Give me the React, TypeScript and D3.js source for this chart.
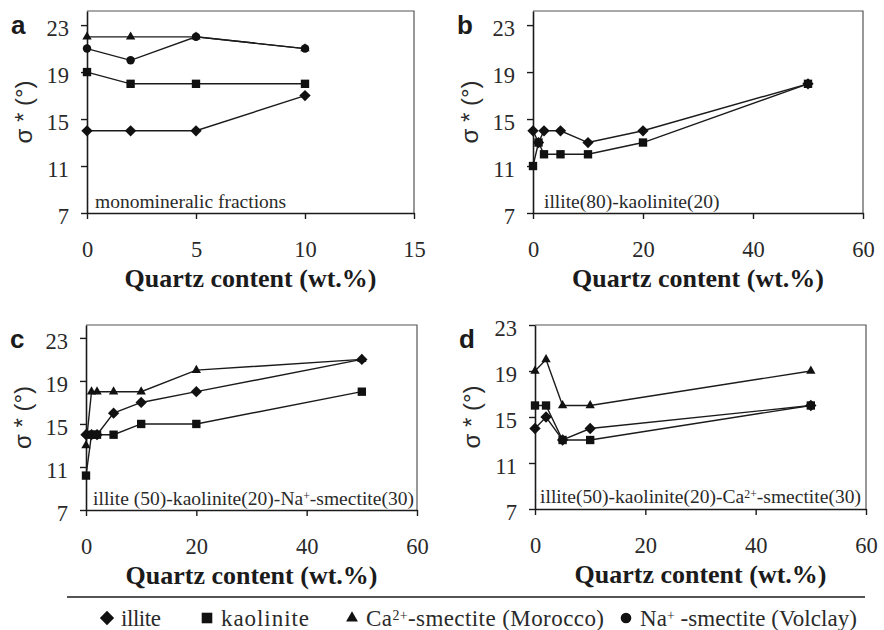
import * as d3 from "d3";
import {useEffect, useRef} from "react";

// Quartz content (wt.%) of the measured mixtures
const quartzA = [0, 2, 5, 10];
const quartzB = [0, 1, 2, 5, 10, 20, 50];
const quartzC = [0, 1, 2, 5, 10, 20, 50];
const quartzD = [0, 2, 5, 10, 50];

// sigma* (°) per clay mineral
const illiteA = [14, 14, 14, 17];
const kaoliniteA = [19, 18, 18, 18];
const caSmectiteA = [22, 22, 22, 21];
const naSmectiteA = [21, 20, 22, 21];

const illiteB = [14, 13, 14, 14, 13, 14, 18];
const kaoliniteB = [11, 13, 12, 12, 12, 13, 18];

const illiteC = [14, 14, 14, 16, 17, 18, 21];
const kaoliniteC = [10.2, 14, 14, 14, 15, 15, 18];
const caSmectiteC = [13, 18, 18, 18, 18, 20, 21];

const illiteD = [14, 15, 13, 14, 16];
const kaoliniteD = [16, 16, 13, 13, 16];
const caSmectiteD = [19, 20, 16, 16, 19];

const yTicks = [7, 11, 15, 19, 23];
const xTicksA = [0, 5, 10, 15];
const xTicksWide = [0, 20, 40, 60];

type Kind = "illite" | "kaolinite" | "ca" | "na";
type Part = {t: string; sup?: boolean};

const SERIF = "'Liberation Serif', 'Times New Roman', serif";
const SANS = "'Liberation Sans', Arial, sans-serif";
const INK = "#1b1b1b";

const panels = [
    {
        letter: "a", box: {x0: 87, x1: 414, y0: 11, y1: 213}, xMax: 15, yMax: 24.2, xTicks: xTicksA,
        note: [{t: "monomineralic fractions"}] as Part[], noteX: 95, noteY: 208, noteLen: 0,
        series: [
            {kind: "ca" as Kind, xs: quartzA, ys: caSmectiteA},
            {kind: "na" as Kind, xs: quartzA, ys: naSmectiteA},
            {kind: "kaolinite" as Kind, xs: quartzA, ys: kaoliniteA},
            {kind: "illite" as Kind, xs: quartzA, ys: illiteA},
        ],
    },
    {
        letter: "b", box: {x0: 533, x1: 863, y0: 11, y1: 213}, xMax: 60, yMax: 24.2, xTicks: xTicksWide,
        note: [{t: "illite(80)-kaolinite(20)"}] as Part[], noteX: 544, noteY: 208, noteLen: 0,
        series: [
            {kind: "kaolinite" as Kind, xs: quartzB, ys: kaoliniteB},
            {kind: "illite" as Kind, xs: quartzB, ys: illiteB},
        ],
    },
    {
        letter: "c", box: {x0: 86, x1: 417, y0: 325, y1: 510}, xMax: 60, yMax: 24.2, xTicks: xTicksWide,
        note: [{t: "illite (50)-kaolinite(20)-Na"}, {t: "+", sup: true}, {t: "-smectite(30)"}] as Part[],
        noteX: 93, noteY: 505, noteLen: 321,
        series: [
            {kind: "ca" as Kind, xs: quartzC, ys: caSmectiteC},
            {kind: "kaolinite" as Kind, xs: quartzC, ys: kaoliniteC},
            {kind: "illite" as Kind, xs: quartzC, ys: illiteC},
        ],
    },
    {
        letter: "d", box: {x0: 535, x1: 866, y0: 325, y1: 509}, xMax: 60, yMax: 23, xTicks: xTicksWide,
        note: [{t: "illite(50)-kaolinite(20)-Ca"}, {t: "2+", sup: true}, {t: "-smectite(30)"}] as Part[],
        noteX: 540, noteY: 503, noteLen: 321,
        series: [
            {kind: "ca" as Kind, xs: quartzD, ys: caSmectiteD},
            {kind: "kaolinite" as Kind, xs: quartzD, ys: kaoliniteD},
            {kind: "illite" as Kind, xs: quartzD, ys: illiteD},
        ],
    },
];

const legendItems = [
    {kind: "illite" as Kind, parts: [{t: "illite"}] as Part[]},
    {kind: "kaolinite" as Kind, parts: [{t: "kaolinite"}] as Part[]},
    {kind: "ca" as Kind, parts: [{t: "Ca"}, {t: "2+", sup: true}, {t: "-smectite (Morocco)"}] as Part[]},
    {kind: "na" as Kind, parts: [{t: "Na"}, {t: "+", sup: true}, {t: " -smectite (Volclay)"}] as Part[]},
];
const legendX = [107, 207, 352, 626];
const legendLen = [40, 88, 238, 217];

const symbolPath = (kind: Kind, scale = 1) => {
    const s = d3.symbol();
    if (kind === "illite") return s.type(d3.symbolSquare).size(64 * scale)();
    if (kind === "kaolinite") return s.type(d3.symbolSquare).size(70 * scale)();
    if (kind === "ca") return s.type(d3.symbolTriangle).size(38 * scale)();
    return s.type(d3.symbolCircle).size(56 * scale)();
};

const addParts = (text: d3.Selection<SVGTextElement, unknown, null, undefined>, parts: Part[]) => {
    parts.forEach((p, i) => {
        const prevSup = i > 0 && parts[i - 1].sup;
        text.append("tspan")
            .attr("font-size", p.sup ? "0.6em" : null)
            .attr("dy", p.sup ? "-0.45em" : prevSup ? "0.27em" : null)
            .text(p.t);
    });
};

const App = () => {
    const svgRef = useRef<SVGSVGElement>(null);

    useEffect(() => {
        if (!svgRef.current) return;
        const svg = d3.select(svgRef.current);
        svg.selectAll("*").remove();

        svg.append("rect").attr("width", 884).attr("height", 630).attr("fill", "#fff");

        panels.forEach(p => {
            const {x0, x1, y0, y1} = p.box;
            const x = d3.scaleLinear().domain([0, p.xMax]).range([x0, x1]);
            const y = d3.scaleLinear().domain([7, p.yMax]).range([y1, y0]);
            const g = svg.append("g");

            // plot frame (top and right)
            g.append("path")
                .attr("d", `M${x0},${y0}H${x1}V${y1}`)
                .attr("fill", "none")
                .attr("stroke", "#555")
                .attr("stroke-width", 1.2);

            const yAxis = g.append("g")
                .attr("transform", `translate(${x0},0)`)
                .call(d3.axisLeft(y).tickValues(yTicks).tickSize(6).tickSizeOuter(0).tickPadding(12));
            const xAxis = g.append("g")
                .attr("transform", `translate(0,${y1})`)
                .call(d3.axisBottom(x).tickValues(p.xTicks).tickSize(6).tickSizeOuter(0).tickPadding(22));

            [yAxis, xAxis].forEach(ax => {
                ax.attr("font-family", SERIF).attr("font-size", 22.5);
                ax.select(".domain").attr("stroke", INK).attr("stroke-width", 1.6);
                ax.selectAll(".tick line").attr("stroke", INK).attr("stroke-width", 1.4);
                ax.selectAll(".tick text").attr("fill", "#2a2a2a");
            });
            yAxis.selectAll(".tick text").attr("dy", "0.45em");

            // series
            p.series.forEach(s => {
                const line = d3.line<number>()
                    .x((_, i) => x(s.xs[i]))
                    .y(d => y(d))
                    .curve(d3.curveLinear);
                g.append("path")
                    .datum(s.ys)
                    .attr("fill", "none")
                    .attr("stroke", INK)
                    .attr("stroke-width", 1.4)
                    .attr("d", line);
                g.selectAll(null)
                    .data(s.ys)
                    .enter()
                    .append("path")
                    .attr("d", symbolPath(s.kind))
                    .attr("transform", (d, i) =>
                        `translate(${x(s.xs[i])},${y(d)})` + (s.kind === "illite" ? " rotate(45)" : ""))
                    .attr("fill", "#111");
            });

            // mixture label
            const note = g.append("text")
                .attr("x", p.noteX)
                .attr("y", p.noteY)
                .attr("font-family", SERIF)
                .attr("font-size", 19.5)
                .attr("fill", "#2a2a2a");
            if (p.noteLen) note.attr("textLength", p.noteLen).attr("lengthAdjust", "spacing");
            addParts(note, p.note);

            // panel letter
            g.append("text")
                .attr("x", x0 - 76)
                .attr("y", y0 + 23)
                .attr("font-family", SANS)
                .attr("font-weight", "bold")
                .attr("font-size", 26)
                .attr("fill", INK)
                .text(p.letter);

            // y title
            g.append("text")
                .attr("transform", `translate(${x0 - 55},${(y0 + y1) / 2}) rotate(-90)`)
                .attr("text-anchor", "middle")
                .attr("font-family", SANS)
                .attr("font-size", 24)
                .attr("fill", "#2a2a2a")
                .text("σ * (°)");

            // x title
            g.append("text")
                .attr("x", (x0 + x1) / 2)
                .attr("y", y1 + 74)
                .attr("text-anchor", "middle")
                .attr("font-family", SERIF)
                .attr("font-weight", "bold")
                .attr("font-size", 26)
                .attr("fill", INK)
                .text("Quartz content (wt.%)");
        });

        // legend
        svg.append("line")
            .attr("x1", 67).attr("x2", 865)
            .attr("y1", 597).attr("y2", 597)
            .attr("stroke", INK)
            .attr("stroke-width", 1.5);

        legendItems.forEach((item, i) => {
            const cx = legendX[i];
            svg.append("path")
                .attr("d", symbolPath(item.kind, 1.6))
                .attr("transform", `translate(${cx},618)` + (item.kind === "illite" ? " rotate(45)" : ""))
                .attr("fill", "#111");
            const t = svg.append("text")
                .attr("x", cx + 14)
                .attr("y", 626)
                .attr("font-family", SERIF)
                .attr("font-size", 23)
                .attr("fill", "#2a2a2a")
                .attr("textLength", legendLen[i])
                .attr("lengthAdjust", "spacing");
            addParts(t, item.parts);
        });
    }, []);

    return <svg ref={svgRef} width={884} height={630}
                style={{position: "absolute", left: 0, top: 0, display: "block"}}/>;
};

export default App;
